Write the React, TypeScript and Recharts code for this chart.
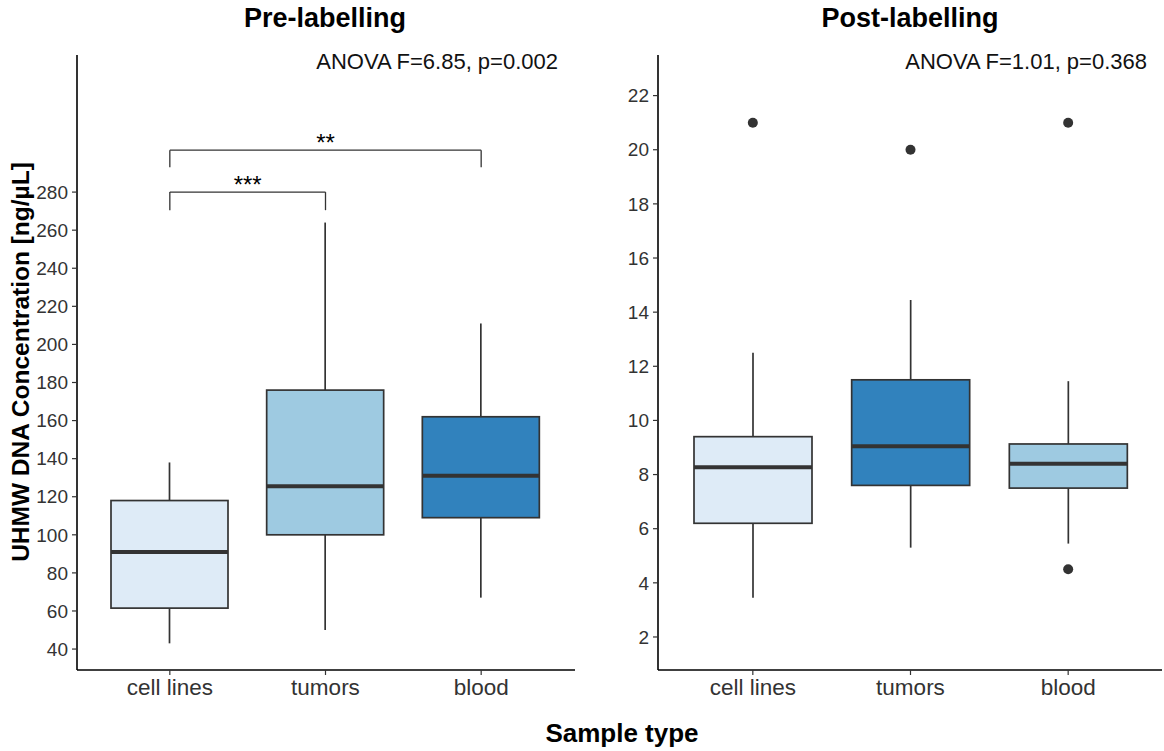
import React from 'react';
import { ComposedChart, Bar, Cell, Line, XAxis, YAxis, ReferenceLine } from 'recharts';

const categories = ['cell lines', 'tumors', 'blood'];

// Pre-labelling box stats (ng/µL)
const preLow = [43, 50, 67];
const preQ1 = [61.5, 100, 109];
const preMedian = [91, 125.5, 131];
const preQ3 = [118, 176, 162];
const preHigh = [138, 264, 211];
const preTicks = [40, 60, 80, 100, 120, 140, 160, 180, 200, 220, 240, 260, 280];

// significance brackets on the pre-labelling panel
const bracketFrom = ['cell lines', 'cell lines'];
const bracketTo = ['tumors', 'blood'];
const bracketLevel = [280, 302];
const bracketTip = [270.5, 293];
const bracketStars = ['***', '**'];

// Post-labelling box stats (ng/µL)
const postLow = [3.45, 5.3, 5.45];
const postQ1 = [6.2, 7.6, 7.5];
const postMedian = [8.27, 9.05, 8.4];
const postQ3 = [9.4, 11.5, 9.13];
const postHigh = [12.5, 14.45, 11.45];
const postOutHigh = [21, 20, 21];
const postOutLow = [null, null, 4.5];
const postTicks = [2, 4, 6, 8, 10, 12, 14, 16, 18, 20, 22];

const preColors = ['#deebf7', '#9ecae1', '#3182bd'];
const postColors = ['#deebf7', '#3182bd', '#9ecae1'];

const preData = categories.map((name, i) => ({
  name, low: preLow[i], q1: preQ1[i], median: preMedian[i], q3: preQ3[i], high: preHigh[i],
}));

const postData = categories.map((name, i) => ({
  name, low: postLow[i], q1: postQ1[i], median: postMedian[i], q3: postQ3[i], high: postHigh[i],
  outHigh: postOutHigh[i], outLow: postOutLow[i],
}));

const FONT = '"Liberation Sans", Arial, sans-serif';
const INK = '#333333';

// whisker + box + median, positions interpolated inside the range bar the scale gave us
const BoxShape = (props: any) => {
  const { x, y, width, height, payload, fill } = props;
  if (!payload) return null;
  const top = Math.min(y, y + height);
  const h = Math.abs(height);
  const { low, q1, median, q3, high } = payload;
  const toY = (v: number) => top + ((high - v) / (high - low)) * h;
  const cx = x + width / 2;
  return (
    <g>
      <line x1={cx} x2={cx} y1={toY(high)} y2={toY(q3)} stroke={INK} strokeWidth={1.7} />
      <line x1={cx} x2={cx} y1={toY(q1)} y2={toY(low)} stroke={INK} strokeWidth={1.7} />
      <rect x={x} y={toY(q3)} width={width} height={toY(q1) - toY(q3)} fill={fill} stroke={INK} strokeWidth={1.7} />
      <line x1={x} x2={x + width} y1={toY(median)} y2={toY(median)} stroke={INK} strokeWidth={4} />
    </g>
  );
};

const axisProps = {
  axisLine: { stroke: '#000', strokeWidth: 1.6 },
  tickLine: { stroke: INK, strokeWidth: 1.2 },
  tickSize: 5,
};

const App: React.FC = () => {
  return (
    <div style={{ position: 'relative', width: 1164, height: 751, background: '#fff', fontFamily: FONT }}>
      <style>{'body{margin:0}'}</style>

      {/* Pre-labelling panel */}
      <div style={{ position: 'absolute', left: 0, top: 0 }}>
        <ComposedChart width={581} height={751} data={preData} margin={{ top: 55, right: 6, bottom: 41, left: 0 }}>
          <XAxis
            dataKey="name"
            height={40}
            padding={{ left: 15, right: 16 }}
            tickMargin={4}
            tick={{ fontSize: 22.5, fill: INK }}
            {...axisProps}
          />
          <YAxis
            type="number"
            width={77}
            domain={[29, 352]}
            ticks={preTicks}
            interval={0}
            allowDataOverflow
            tickMargin={4}
            tick={{ fontSize: 19, fill: INK }}
            {...axisProps}
          />
          <Bar dataKey={(d: any) => [d.low, d.high]} barSize={117} shape={BoxShape} isAnimationActive={false}>
            {preData.map((d, i) => (
              <Cell key={d.name} fill={preColors[i]} />
            ))}
          </Bar>
          {bracketStars.map((stars, i) => (
            <ReferenceLine
              key={`h-${i}`}
              segment={[{ x: bracketFrom[i], y: bracketLevel[i] }, { x: bracketTo[i], y: bracketLevel[i] }]}
              stroke={INK}
              strokeWidth={1.3}
              ifOverflow="visible"
              label={{ value: stars, position: 'top', offset: -1, fontSize: 24, fill: '#000' }}
            />
          ))}
          {bracketStars.map((_, i) => (
            <ReferenceLine
              key={`l-${i}`}
              segment={[{ x: bracketFrom[i], y: bracketLevel[i] }, { x: bracketFrom[i], y: bracketTip[i] }]}
              stroke={INK}
              strokeWidth={1.3}
              ifOverflow="visible"
            />
          ))}
          {bracketStars.map((_, i) => (
            <ReferenceLine
              key={`r-${i}`}
              segment={[{ x: bracketTo[i], y: bracketLevel[i] }, { x: bracketTo[i], y: bracketTip[i] }]}
              stroke={INK}
              strokeWidth={1.3}
              ifOverflow="visible"
            />
          ))}
        </ComposedChart>
      </div>

      {/* Post-labelling panel */}
      <div style={{ position: 'absolute', left: 581, top: 0 }}>
        <ComposedChart width={583} height={751} data={postData} margin={{ top: 55, right: 2, bottom: 41, left: 0 }}>
          <XAxis
            dataKey="name"
            height={40}
            padding={{ left: 16, right: 15 }}
            tickMargin={4}
            tick={{ fontSize: 22.5, fill: INK }}
            {...axisProps}
          />
          <YAxis
            type="number"
            width={77}
            domain={[0.78, 23.5]}
            ticks={postTicks}
            interval={0}
            allowDataOverflow
            tickMargin={4}
            tick={{ fontSize: 19, fill: INK }}
            {...axisProps}
          />
          <Bar dataKey={(d: any) => [d.low, d.high]} barSize={118} shape={BoxShape} isAnimationActive={false}>
            {postData.map((d, i) => (
              <Cell key={d.name} fill={postColors[i]} />
            ))}
          </Bar>
          <Line dataKey="outHigh" stroke="none" dot={{ r: 5, fill: INK, stroke: 'none' }} activeDot={false} legendType="none" isAnimationActive={false} />
          <Line dataKey="outLow" stroke="none" dot={{ r: 5, fill: INK, stroke: 'none' }} activeDot={false} legendType="none" isAnimationActive={false} />
        </ComposedChart>
      </div>

      {/* titles, annotations and axis titles */}
      <svg width={1164} height={751} style={{ position: 'absolute', left: 0, top: 0, pointerEvents: 'none' }}>
        <text x={325} y={27} textAnchor="middle" fontSize={27} fontWeight="bold" fill="#000">Pre-labelling</text>
        <text x={910} y={27} textAnchor="middle" fontSize={27} fontWeight="bold" fill="#000">Post-labelling</text>
        <text x={558} y={69} textAnchor="end" fontSize={22} fill="#111">ANOVA F=6.85, p=0.002</text>
        <text x={1147} y={69} textAnchor="end" fontSize={22} fill="#111">ANOVA F=1.01, p=0.368</text>
        <text x={622} y={742} textAnchor="middle" fontSize={26} fontWeight="bold" fill="#000">Sample type</text>
        <text transform="translate(29,362) rotate(-90)" textAnchor="middle" fontSize={24.5} fontWeight="bold" fill="#000">
          UHMW DNA Concentration [ng/µL]
        </text>
      </svg>
    </div>
  );
};

export default App;
